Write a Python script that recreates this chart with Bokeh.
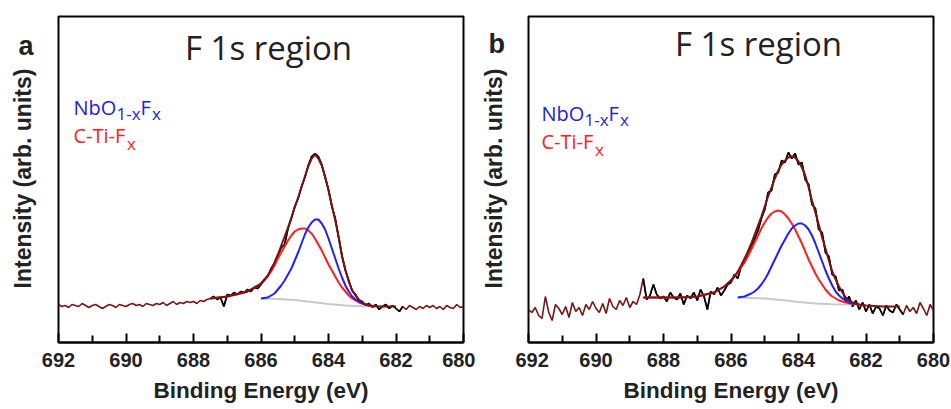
import math
import numpy as np
from bokeh.plotting import figure
from bokeh.models import Range1d, Label, FixedTicker
from bokeh.layouts import row
from bokeh.embed import file_html
from bokeh.resources import INLINE

# ---------------- data ----------------
# raw spectra sampled every 0.1 eV, 692.0 eV -> 680.0 eV (121 samples)
raw_energy = np.round(np.linspace(692.0, 680.0, 121), 1)

raw_a = [38, 36, 37, 35, 38, 37, 36, 39, 37, 35,
         37, 38, 36, 34, 36, 38, 37, 35, 38, 37,
         36, 38, 39, 37, 38, 36, 39, 38, 37, 39,
         38, 40, 37, 39, 41, 38, 40, 39, 41, 40,
         41, 39, 42, 41, 43, 44, 46, 43, 45, 36,
         48, 47, 50, 48, 51, 50, 53, 51, 55, 54,
         58, 63, 66, 74, 79, 87, 95, 98, 114, 124,
         136, 144, 156, 165, 177, 186, 189, 186, 178, 165,
         153, 136, 124, 105, 87, 72, 62, 52, 48, 42,
         41, 37, 39, 35, 38, 33, 36, 38, 34, 37,
         34, 31, 36, 33, 37, 35, 33, 36, 34, 37,
         35, 37, 34, 36, 33, 37, 35, 34, 38, 35, 36]

raw_b = [33, 30, 35, 27, 24, 46, 30, 22, 38, 34,
         28, 36, 25, 40, 31, 35, 27, 38, 33, 41,
         34, 30, 39, 29, 44, 36, 33, 42, 37, 45,
         35, 41, 38, 48, 64, 43, 47, 58, 48, 44,
         46, 41, 50, 45, 43, 49, 38, 47, 44, 50,
         42, 53, 46, 33, 51, 48, 55, 47, 52, 58,
         60, 68, 64, 76, 80, 90, 95, 104, 112, 124,
         133, 150, 152, 168, 170, 182, 180, 190, 184, 189,
         178, 180, 163, 158, 138, 134, 113, 110, 90, 86,
         68, 66, 52, 53, 41, 46, 36, 42, 33, 40,
         31, 38, 29, 36, 34, 27, 37, 32, 30, 38,
         33, 28, 37, 31, 35, 29, 40, 34, 27, 38, 32]

# energy window of the fitted region (raw drawn black there)
window_a = [687.5, 681.8]
window_b = [688.6, 680.9]

# panel a: envelope, components, background
env_a_e = [687.5, 687.0, 686.5, 686.4, 686.3, 686.2, 686.1, 686.0, 685.9, 685.8,
           685.7, 685.6, 685.5, 685.4, 685.3, 685.2, 685.1, 685.0, 684.9, 684.8,
           684.7, 684.6, 684.5, 684.4, 684.3, 684.2, 684.1, 684.0, 683.9, 683.8,
           683.7, 683.6, 683.5, 683.4, 683.3, 683.2, 683.1, 683.0, 682.9, 682.8,
           682.5, 682.0]
env_a_v = [44, 46, 50, 51, 53, 55, 57, 59, 63, 67,
           73, 80, 88, 97, 106, 115, 125, 135, 145, 155,
           166, 176, 184, 188, 184, 177, 166, 152, 137, 122,
           106, 86, 73, 61, 52, 47, 43, 40, 38, 37,
           36, 36]

red_a_e = [687.5, 687.0, 686.5, 686.4, 686.3, 686.2, 686.1, 686.0, 685.9, 685.8,
           685.7, 685.6, 685.5, 685.4, 685.3, 685.2, 685.1, 685.0, 684.9, 684.8,
           684.7, 684.6, 684.5, 684.4, 684.3, 684.2, 684.1, 684.0, 683.9, 683.8,
           683.7, 683.6, 683.5, 683.4, 683.3, 683.2, 683.1, 683.0, 682.8, 682.6]
red_a_v = [44, 46, 50, 51, 53, 55, 57, 59, 62, 66,
           71, 77, 84, 90, 96, 102, 107, 111, 113, 114,
           114, 112, 109, 104, 98, 92, 85, 78, 72, 66,
           60, 55, 51, 47, 44, 42, 40, 39, 37, 36]

blue_a_e = [686.0, 685.9, 685.8, 685.7, 685.6, 685.5, 685.4, 685.3, 685.2, 685.1,
            685.0, 684.9, 684.8, 684.7, 684.6, 684.5, 684.4, 684.3, 684.2, 684.1,
            684.0, 683.9, 683.8, 683.7, 683.6, 683.5, 683.4, 683.3, 683.2, 683.1,
            683.0, 682.9, 682.8]
blue_a_v = [44, 44.5, 45, 47, 49, 53, 57, 62, 68, 74,
            82, 90, 99, 108, 115, 120, 123, 123, 119, 113,
            104, 94, 84, 74, 65, 57, 51, 46, 43, 41,
            39, 38, 37]

bg_a_e = [686.0, 685.5, 685.0, 684.5, 684.0, 683.5, 683.0, 682.7]
bg_a_v = [44, 43.5, 42.5, 40.5, 38.5, 37, 36.3, 36]

# panel b
env_b_e = [688.6, 688.0, 687.5, 687.0, 686.5,
           686.4, 686.3, 686.2, 686.1, 686.0, 685.9, 685.8, 685.7, 685.6, 685.5,
           685.4, 685.3, 685.2, 685.1, 685.0, 684.9, 684.8, 684.7, 684.6, 684.5,
           684.4, 684.3, 684.2, 684.1, 684.0, 683.9, 683.8, 683.7, 683.6, 683.5,
           683.4, 683.3, 683.2, 683.1, 683.0, 682.9, 682.8, 682.7, 682.6, 682.5,
           682.4, 682.3, 682.2, 682.0, 681.5, 681.0]
env_b_v = [45, 45, 45, 46, 50,
           52, 54, 56, 59, 62, 66, 71, 77, 84, 91,
           99, 108, 117, 126, 136, 146, 155, 164, 172, 178,
           182, 185, 186, 185, 181, 175, 167, 155, 142, 130,
           118, 105, 94, 82, 71, 63, 56, 50, 45, 42,
           40, 39, 38, 37, 36, 36]

red_b_e = [688.6, 688.0, 687.5, 687.0, 686.5,
           686.4, 686.3, 686.2, 686.1, 686.0, 685.9, 685.8, 685.7, 685.6, 685.5,
           685.4, 685.3, 685.2, 685.1, 685.0, 684.9, 684.8, 684.7, 684.6, 684.5,
           684.4, 684.3, 684.2, 684.1, 684.0, 683.9, 683.8, 683.7, 683.6, 683.5,
           683.4, 683.3, 683.2, 683.1, 683.0, 682.8, 682.6, 682.4, 682.2]
red_b_v = [45, 45, 45, 46, 50,
           52, 54, 56, 59, 62, 66, 70, 75, 80, 86,
           93, 100, 107, 114, 120, 125, 129, 131, 132, 131,
           128, 124, 119, 113, 106, 99, 91, 83, 76, 69,
           63, 58, 53, 49, 46, 42, 40, 38.5, 38]

blue_b_e = [685.8, 685.6, 685.4,
            685.3, 685.2, 685.1, 685.0, 684.9, 684.8, 684.7, 684.6, 684.5, 684.4,
            684.3, 684.2, 684.1, 684.0, 683.9, 683.8, 683.7, 683.6, 683.5, 683.4,
            683.3, 683.2, 683.1, 683.0, 682.9, 682.8, 682.7, 682.6, 682.5, 682.4,
            682.3]
blue_b_v = [45, 46, 49,
            51, 54, 58, 63, 69, 76, 83, 90, 97, 103,
            109, 114, 117, 119, 119, 117, 113, 107, 99, 90,
            81, 72, 64, 57, 51, 47, 44, 42, 40, 39,
            38.5]

bg_b_e = [685.8, 685.0, 684.5, 684.0, 683.5, 683.0, 682.4]
bg_b_v = [45, 44, 42.5, 40.5, 39, 38.3, 38]

x_ticks = [692, 690, 688, 686, 684, 682, 680]
x_minor_ticks = [691, 689, 687, 685, 683, 681]

panel_letters = ["a", "b"]
title_text = "F 1s region"
x_label = "Binding Energy (eV)"
y_label = "Intensity (arb. units)"
legend_nb = [("NbO", False), ("1-x", True), ("F", False), ("x", True)]
legend_ti = [("C-Ti-F", False), ("x", True)]

# ---------------- styling ----------------
BROWN = "#7a1416"
BLACK = "#000000"
RED = "#ff1f1f"
BLUE = "#1f1fff"
GRAY = "#c8c8c8"
LEG_BLUE = "#2323d8"
LEG_RED = "#ff2020"
TXT = "#222222"
SANS = "Open Sans"
BOLD = "Liberation Sans"
FRAME_BOTTOM = 342  # canvas y of the frame bottom
DY = 10  # baseline correction for screen-positioned labels


def add_formula(p, pieces, x0, y0, offsets, drop, color):
    for (txt, sub), dx in zip(pieces, offsets):
        p.add_layout(Label(x=x0 + dx, y=y0 - (drop if sub else 0), x_units="screen", y_units="screen",
                           text=txt, text_font=SANS, text_font_size="17px" if sub else "20px",
                           text_color=color, text_baseline="alphabetic", text_align="left"))


def make_side(letter, width, letter_x, letter_base, ylab_x):
    s = figure(frame_width=width, frame_height=326, min_border_left=0, min_border_right=0,
               min_border_top=16, min_border_bottom=67,
               x_axis_location=None, y_axis_location=None,
               x_range=Range1d(0, 1), y_range=Range1d(0, 1),
               output_backend="svg", toolbar_location=None)
    s.outline_line_color = None
    s.xgrid.visible = False
    s.ygrid.visible = False
    s.add_layout(Label(x=letter_x, y=FRAME_BOTTOM - letter_base + DY, x_units="screen", y_units="screen",
                       text=letter, text_font=BOLD, text_font_style="bold", text_font_size="27px",
                       text_color=TXT, text_baseline="alphabetic", text_align="left"))
    s.add_layout(Label(x=ylab_x, y=FRAME_BOTTOM - 178, x_units="screen", y_units="screen",
                       text=y_label, angle=math.pi / 2, text_font=BOLD, text_font_style="bold",
                       text_font_size="23px", text_color=TXT, text_baseline="middle",
                       text_align="center"))
    return s


def make_panel(raw, window, env, red, blue, bg, border_left, border_right, title_pos, legend_pos):
    p = figure(frame_width=405, frame_height=326,
               min_border_left=border_left, min_border_right=border_right,
               min_border_top=16, min_border_bottom=67, y_axis_location=None,
               x_range=Range1d(692, 680), y_range=Range1d(0, 326),
               output_backend="svg", toolbar_location=None)
    p.xgrid.visible = False
    p.ygrid.visible = False
    p.outline_line_color = "black"
    p.outline_line_width = 2
    p.outline_line_alpha = 1

    raw = np.array(raw, dtype=float)
    p.line(raw_energy, raw, line_color=BROWN, line_width=1.6)
    m = (raw_energy <= window[0]) & (raw_energy >= window[1])
    p.line(raw_energy[m], raw[m], line_color=BLACK, line_width=1.6)
    p.line(bg[0], bg[1], line_color=GRAY, line_width=2)
    p.line(red[0], red[1], line_color=RED, line_width=2)
    p.line(blue[0], blue[1], line_color=BLUE, line_width=2)
    p.line(env[0], env[1], line_color=BROWN, line_width=2)

    xa = p.xaxis[0]
    xa.ticker = FixedTicker(ticks=x_ticks, minor_ticks=x_minor_ticks)
    xa.axis_label = x_label
    xa.axis_label_text_font = BOLD
    xa.axis_label_text_font_style = "bold"
    xa.axis_label_text_font_size = "22.5px"
    xa.axis_label_text_color = TXT
    xa.axis_label_standoff = 8
    xa.major_label_text_font = BOLD
    xa.major_label_text_font_style = "bold"
    xa.major_label_text_font_size = "20px"
    xa.major_label_text_color = TXT
    xa.major_label_standoff = 10
    xa.major_tick_in = 9
    xa.major_tick_out = 0
    xa.minor_tick_in = 7
    xa.minor_tick_out = 0
    xa.major_tick_line_width = 2
    xa.minor_tick_line_width = 2
    xa.axis_line_width = 2

    p.add_layout(Label(x=title_pos[0], y=title_pos[1] + DY, x_units="screen", y_units="screen",
                       text=title_text, text_font=SANS, text_font_size="33px",
                       text_color=TXT, text_align="center", text_baseline="alphabetic"))
    add_formula(p, legend_nb, legend_pos[0], legend_pos[1] + DY, [0, 43, 67, 78.5], 6, LEG_BLUE)
    add_formula(p, legend_ti, legend_pos[0], legend_pos[2] + DY, [0, 53.5], 8, LEG_RED)
    return p


side_a = make_side(panel_letters[0], 40, 18, 55, 22)
pa = make_panel(raw_a, window_a, (env_a_e, env_a_v), (red_a_e, red_a_v),
                (blue_a_e, blue_a_v), (bg_a_e, bg_a_v), 18, 12, (210, 285), (15, 225, 197))
side_b = make_side(panel_letters[1], 40, 13, 53, 18)
pb = make_panel(raw_b, window_b, (env_b_e, env_b_v), (red_b_e, red_b_v),
                (blue_b_e, blue_b_v), (bg_b_e, bg_b_v), 13, 18, (230, 289), (13, 219, 191))

layout = row(side_a, pa, side_b, pb, spacing=0)
open("out.html", "w").write(file_html(layout, INLINE))
